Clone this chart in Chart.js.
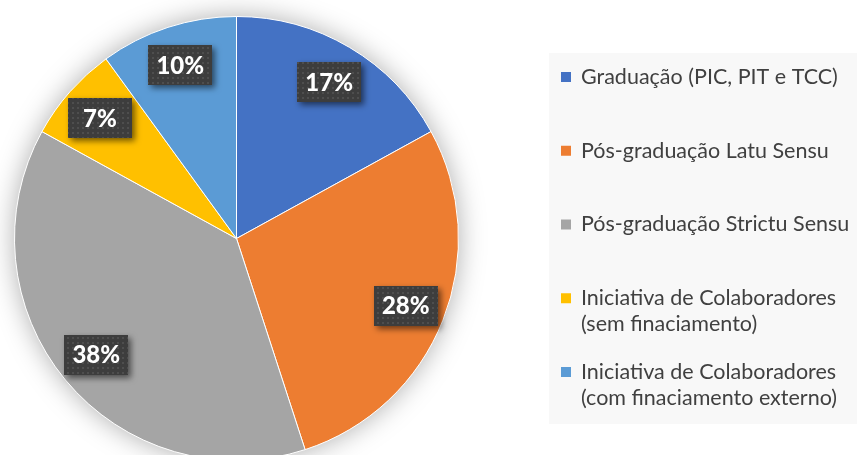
<!DOCTYPE html>
<html>
<head>
<meta charset="utf-8">
<script src="https://cdn.jsdelivr.net/npm/chart.js@4.4.1/dist/chart.umd.min.js"></script>
<style>
  html, body { margin: 0; padding: 0; background: #ffffff; overflow: hidden; }
  #wrap { position: relative; width: 857px; height: 455px; overflow: hidden; }
  #c { position: absolute; left: 0; top: 0; }
</style>
</head>
<body>
<div id="wrap"><canvas id="c" width="857" height="470"></canvas></div>
<script>
const categories = [
  'Graduação (PIC, PIT e TCC)',
  'Pós-graduação Latu Sensu',
  'Pós-graduação Strictu Sensu',
  'Iniciativa de Colaboradores\n(sem finaciamento)',
  'Iniciativa de Colaboradores\n(com finaciamento externo)'
];
const values = [17, 28, 38, 7, 10];
const colors = ['#4472C4', '#ED7D31', '#A5A5A5', '#FFC000', '#5B9BD5'];

function makePattern(ctx) {
  const p = document.createElement('canvas');
  p.width = 5; p.height = 5;
  const g = p.getContext('2d');
  g.fillStyle = '#3d3d3d';
  g.fillRect(0, 0, 5, 5);
  g.fillStyle = '#4e4e4e';
  g.fillRect(2, 2, 2, 2);
  return ctx.createPattern(p, 'repeat');
}

const shadowPlugin = {
  id: 'pieShadow',
  beforeDatasetsDraw(chart) {
    const arc = chart.getDatasetMeta(0).data[0];
    if (!arc) return;
    const ctx = chart.ctx;
    ctx.save();
    ctx.shadowColor = 'rgba(0,0,0,0.35)';
    ctx.shadowBlur = 28;
    ctx.fillStyle = '#ffffff';
    ctx.beginPath();
    ctx.arc(arc.x, arc.y, arc.outerRadius - 1, 0, Math.PI * 2);
    ctx.fill();
    ctx.restore();
  }
};

const labelPlugin = {
  id: 'boxLabels',
  afterDatasetsDraw(chart) {
    const ctx = chart.ctx;
    const meta = chart.getDatasetMeta(0);
    const data = chart.data.datasets[0].data;
    const total = data.reduce((a, b) => a + b, 0);
    const pat = makePattern(ctx);
    meta.data.forEach((arc, i) => {
      const mid = (arc.startAngle + arc.endAngle) / 2;
      const r = arc.outerRadius * 0.82;
      const cx = arc.x + Math.cos(mid) * r;
      const cy = arc.y + Math.sin(mid) * r;
      const w = 64, h = 40;
      ctx.save();
      ctx.shadowColor = 'rgba(0,0,0,0.55)';
      ctx.shadowBlur = 6;
      ctx.shadowOffsetX = 3;
      ctx.shadowOffsetY = 3;
      ctx.fillStyle = pat;
      ctx.fillRect(Math.round(cx - w / 2), Math.round(cy - h / 2), w, h);
      ctx.restore();
      ctx.save();
      ctx.fillStyle = '#ffffff';
      ctx.font = '900 24px Lato';
      ctx.textAlign = 'center';
      ctx.textBaseline = 'middle';
      ctx.fillText(Math.round(data[i] / total * 100) + '%', cx, cy + 1);
      ctx.restore();
    });
  }
};

const legendPlugin = {
  id: 'sideLegend',
  afterDraw(chart) {
    const ctx = chart.ctx;
    ctx.save();
    ctx.fillStyle = '#f8f8f8';
    ctx.fillRect(549, 53, 320, 371);
    const y0 = 77, step = 73.75, lh = 26;
    chart.data.labels.forEach((lab, i) => {
      const y = y0 + i * step;
      ctx.fillStyle = colors[i];
      ctx.fillRect(561, y - 5, 10, 10);
      ctx.fillStyle = '#404040';
      ctx.font = '21.5px Lato';
      ctx.textAlign = 'left';
      ctx.textBaseline = 'middle';
      lab.split('\n').forEach((line, k) => {
        ctx.fillText(line, 581, y + k * lh);
      });
    });
    ctx.restore();
  }
};

new Chart(document.getElementById('c'), {
  type: 'pie',
  data: {
    labels: categories,
    datasets: [{
      data: values,
      backgroundColor: colors,
      borderColor: '#ffffff',
      borderWidth: 1
    }]
  },
  options: {
    responsive: false,
    animation: false,
    layout: { padding: { left: 14, top: 16, right: 398, bottom: 9 } },
    plugins: {
      legend: { display: false },
      tooltip: { enabled: false }
    }
  },
  plugins: [shadowPlugin, labelPlugin, legendPlugin]
});
</script>
</body>
</html>
